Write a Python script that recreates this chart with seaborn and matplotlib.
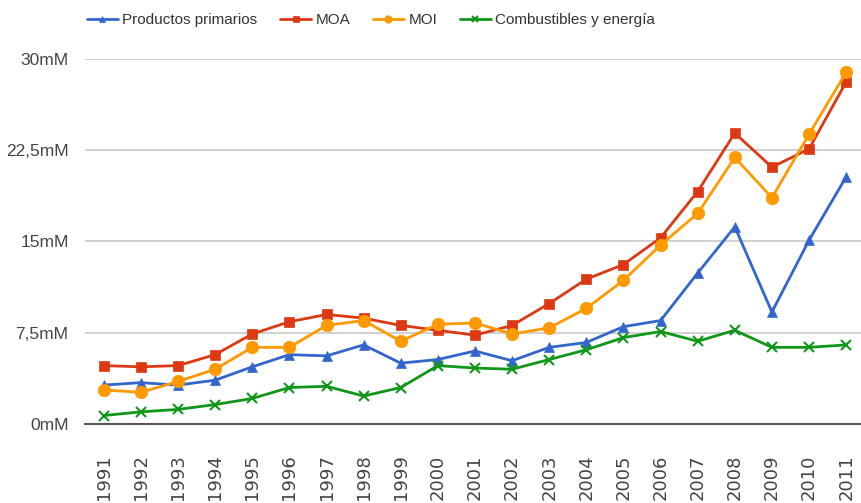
import pandas as pd
import matplotlib
matplotlib.use('Agg')
import matplotlib.pyplot as plt
import seaborn as sns

# --- data (thousand millions USD) ---
years = [str(y) for y in range(1991, 2012)]
primarios = [3.2, 3.4, 3.2, 3.6, 4.7, 5.7, 5.6, 6.5, 5.0, 5.3, 6.0,
             5.2, 6.3, 6.7, 8.0, 8.5, 12.4, 16.2, 9.2, 15.1, 20.3]
moa = [4.8, 4.7, 4.8, 5.7, 7.4, 8.4, 9.0, 8.7, 8.1, 7.7, 7.3,
       8.1, 9.9, 11.9, 13.1, 15.3, 19.1, 23.9, 21.1, 22.6, 28.1]
moi = [2.8, 2.6, 3.5, 4.5, 6.3, 6.3, 8.1, 8.5, 6.8, 8.2, 8.3,
       7.4, 7.9, 9.5, 11.8, 14.7, 17.3, 21.9, 18.6, 23.8, 28.9]
combustibles = [0.7, 1.0, 1.2, 1.6, 2.1, 3.0, 3.1, 2.3, 3.0, 4.8, 4.6,
                4.5, 5.3, 6.1, 7.1, 7.6, 6.8, 7.7, 6.3, 6.3, 6.5]

series_names = ['Productos primarios', 'MOA', 'MOI', 'Combustibles y energía']
series_values = [primarios, moa, moi, combustibles]
y_ticks = [0, 7.5, 15, 22.5, 30]
y_labels = ['0mM', '7,5mM', '15mM', '22,5mM', '30mM']

colors = {'Productos primarios': '#3366cc', 'MOA': '#dc3912',
          'MOI': '#ff9900', 'Combustibles y energía': '#109618'}
markers = {'Productos primarios': '^', 'MOA': 's',
           'MOI': 'o', 'Combustibles y energía': 'x'}
msizes = {'Productos primarios': 6.5, 'MOA': 6.5,
          'MOI': 9, 'Combustibles y energía': 6.5}

rows = []
for name, vals in zip(series_names, series_values):
    for i, v in enumerate(vals):
        rows.append({'pos': i, 'year': years[i], 'value': v, 'serie': name})
df = pd.DataFrame(rows)

sns.set_style('white')
plt.rcParams['font.family'] = ['Liberation Sans', 'DejaVu Sans']

fig = plt.figure(figsize=(8.61, 5.03), dpi=100)
ax = fig.add_axes([0.099, 0.157, 0.901, 0.726])

for name in series_names:
    sub = df[df['serie'] == name]
    sns.lineplot(data=sub, x='pos', y='value', ax=ax, color=colors[name],
                 marker=markers[name], markersize=msizes[name], linewidth=2.0,
                 markeredgecolor=colors[name],
                 markeredgewidth=1.5 if markers[name] == 'x' else 0.5,
                 label=name, clip_on=False, legend=False)

ax.set_xlim(-0.5, 20.4)
ax.set_ylim(0, 30)
ax.set_xticks(range(len(years)))
ax.set_xticklabels(years, rotation=90, fontsize=13, color='#444444',
                   family=['DejaVu Sans'])
ax.set_yticks(y_ticks)
ax.set_yticklabels(y_labels, fontsize=12.5, color='#444444')
ax.tick_params(axis='y', length=0, pad=12)
ax.tick_params(axis='x', length=0, pad=22)
ax.set_xlabel('')
ax.set_ylabel('')

ax.grid(axis='y', color='#c8c8c8', linewidth=1.2)
ax.grid(axis='x', visible=False)
for side in ['top', 'right', 'left']:
    ax.spines[side].set_visible(False)
ax.spines['bottom'].set_color('#555555')
ax.spines['bottom'].set_linewidth(1.5)
ax.set_axisbelow(True)

handles, labels = ax.get_legend_handles_labels()
fig.legend(handles, labels, loc='center', bbox_to_anchor=(0.431, 0.96),
           ncol=4, frameon=False, fontsize=11, handlelength=2.0,
           columnspacing=1.5, handletextpad=0.3, markerscale=0.6,
           labelcolor='#333333')

fig.savefig('out.png', dpi=100)
plt.close(fig)
